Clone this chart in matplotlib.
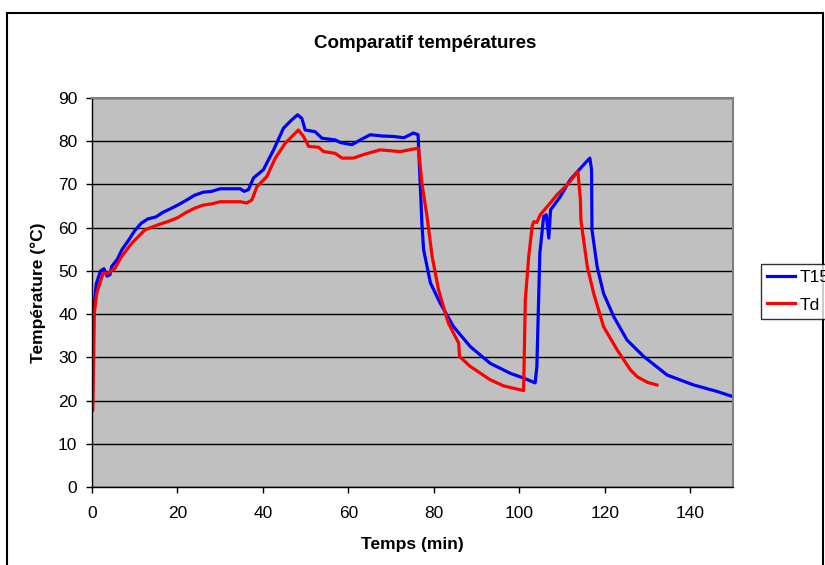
import matplotlib
matplotlib.use("Agg")
import matplotlib.pyplot as plt
from matplotlib.patches import Rectangle

plt.rcParams['font.family'] = ['Liberation Sans', 'DejaVu Sans']

t15_time = [0, 0.1, 0.3, 1.0, 2.0, 2.8, 3.5, 4.2, 4.6, 6.0, 7.0, 8.5, 10.0, 11.5, 13.0, 15.0,
            16.5, 18.0, 20.0, 22.0, 24.0, 26.0, 28.0, 30.0, 32.0, 34.7, 35.6, 36.6, 37.8, 40.1,
            42.5, 44.8, 46.8, 48.1, 49.1, 49.9, 52.2, 53.8, 56.9, 58.1, 60.8, 62.8, 65.1, 68.0,
            70.6, 73.0, 75.2, 76.3, 76.8, 77.2, 77.6, 79.2, 81.5, 84.6, 88.5, 93.2, 97.9, 101.0,
            103.7, 104.1, 104.8, 105.7, 106.3, 106.9, 107.3, 109.6, 111.9, 115.0, 116.5, 116.9,
            117.0, 118.2, 119.7, 122.1, 125.2, 129.1, 134.6, 140.8, 146.3, 150.0]
t15_vals = [28, 36, 40, 47, 50, 50.5, 48.8, 49.1, 51, 52.8, 54.9, 57, 59.3, 61, 62, 62.5,
            63.5, 64.2, 65.2, 66.3, 67.5, 68.2, 68.4, 69, 69, 69, 68.4, 68.8, 71.5, 73.4,
            78, 83, 85, 86.1, 85.3, 82.6, 82.2, 80.7, 80.3, 79.7, 79.2, 80.3, 81.5, 81.2,
            81.1, 80.8, 81.9, 81.5, 70.3, 61, 54.9, 47.2, 42.5, 37.1, 32.5, 28.6, 26.3, 25.2,
            24.1, 27.8, 54.1, 62.6, 63, 57.6, 64.1, 67.2, 71.1, 74.5, 76.1, 73.4,
            59.5, 51, 44.8, 39.4, 34, 30.2, 25.9, 23.6, 22.1, 20.9]

td_time = [0.2, 0.55, 1.1, 2.6, 3.8, 5.4, 6.9, 9.3, 12.4, 15.0, 18.0, 20.0, 22.0, 24.0, 26.0,
           28.0, 30.0, 34.7, 36.2, 37.4, 38.6, 40.9, 42.9, 45.2, 46.8, 48.3, 49.5, 50.7, 53.0,
           54.2, 56.9, 58.5, 61.2, 63.5, 67.4, 72.1, 76.4, 77.2, 78.4, 79.6, 81.1, 83.4, 85.8,
           86.0, 88.5, 93.2, 96.3, 101.0, 101.4, 102.2, 103.0, 103.4, 104.1, 104.9, 106.9, 108.8,
           111.2, 113.7, 114.3, 114.4, 115.9, 117.4, 119.7, 122.9, 126.0, 127.6, 130.0, 132.2]
td_vals = [17.8, 40.2, 44.8, 49.5, 49.5, 50.6, 53.3, 56.4, 59.5, 60.5, 61.5, 62.3, 63.5, 64.5, 65.2,
           65.5, 66, 66, 65.7, 66.4, 69.5, 71.8, 76.1, 79.5, 81.1, 82.6, 81.1, 78.8, 78.6,
           77.6, 77.2, 76.1, 76.1, 76.9, 78, 77.6, 78.4, 70.3, 62.6, 53.3, 45.6, 37.9, 33.3,
           30.2, 27.9, 24.8, 23.4, 22.3, 43.3, 53.3, 60.3, 61.4, 61.2, 63, 65.3, 67.6,
           69.9, 73, 66.4, 61.8, 51, 44.8, 37.1, 31.7, 27.1, 25.5, 24.2, 23.6]

series_names = ['T15', 'Td']
x_ticks = [0, 20, 40, 60, 80, 100, 120, 140]
y_ticks = [0, 10, 20, 30, 40, 50, 60, 70, 80, 90]

fig = plt.figure(figsize=(8.25, 5.65), dpi=100)
fig.patch.set_facecolor('white')
fig.patches.append(Rectangle((7/825, -0.1), 816/825, 1.1 - 13/565, transform=fig.transFigure,
                             fill=False, edgecolor='black', linewidth=1.5))

ax = fig.add_axes([92/825, 1 - 487/565, 641/825, 389/565])
ax.set_facecolor('#C0C0C0')
ax.set_xlim(0, 150)
ax.set_ylim(0, 90)
ax.set_yticks(y_ticks)
ax.set_xticks(x_ticks)
ax.yaxis.grid(True, color='black', linewidth=1.0)
ax.set_axisbelow(True)
for s in ['top', 'right']:
    ax.spines[s].set_color('#808080')
    ax.spines[s].set_linewidth(1.5)
for s in ['left', 'bottom']:
    ax.spines[s].set_color('black')
    ax.spines[s].set_linewidth(1.0)
ax.tick_params(axis='x', direction='out', length=4.5, width=1, labelsize=12.5, colors='black', pad=9)
ax.tick_params(axis='y', direction='out', length=4.5, width=1, labelsize=12.5, colors='black', pad=6)

ax.plot(t15_time, t15_vals, color='#0000FF', linewidth=2.3, label=series_names[0], solid_joinstyle='round')
ax.plot(td_time, td_vals, color='#FF0000', linewidth=2.3, label=series_names[1], solid_joinstyle='round')

fig.text(425/825, 1 - 44/565, 'Comparatif températures', ha='center', va='center',
         fontsize=13.5, fontweight='bold')
ax.set_xlabel('Temps (min)', fontsize=12.5, fontweight='bold')
ax.xaxis.set_label_coords(0.5, (487 - 545) / 389)
ax.xaxis.label.set_verticalalignment('center')
ax.set_ylabel('Température (°C)', fontsize=12.5, fontweight='bold')
ax.yaxis.set_label_coords((38 - 92) / 641, 0.5)
ax.yaxis.label.set_verticalalignment('center')

leg = fig.legend(loc='upper left', bbox_to_anchor=(761/825, 1 - 264/565), fontsize=12.5,
                 frameon=True, fancybox=False, edgecolor='black', handlelength=1.6,
                 borderpad=0.35, borderaxespad=0, labelspacing=0.7, handletextpad=0.25)
leg.get_frame().set_linewidth(1.0)

fig.savefig('out.png', dpi=100)
